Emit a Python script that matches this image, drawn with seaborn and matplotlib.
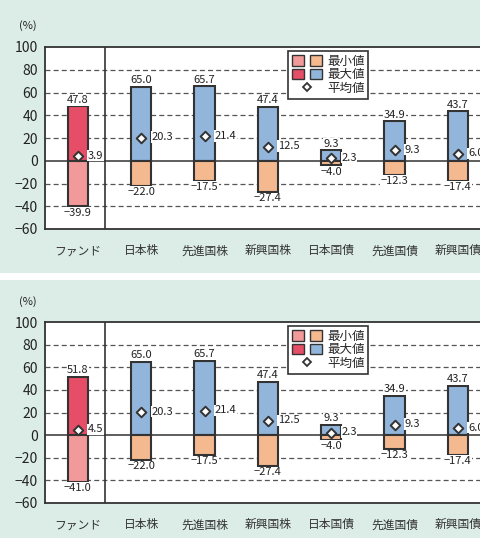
import matplotlib
matplotlib.use("Agg")
import matplotlib.pyplot as plt
import seaborn as sns
from matplotlib.patches import Patch, Rectangle
from matplotlib.lines import Line2D
from matplotlib.legend_handler import HandlerTuple

categories = ['ファンド', '日本株', '先進国株', '新興国株', '日本国債', '先進国債', '新興国債']

# top panel
max_top = [47.8, 65.0, 65.7, 47.4, 9.3, 34.9, 43.7]
min_top = [-39.9, -22.0, -17.5, -27.4, -4.0, -12.3, -17.4]
mean_top = [3.9, 20.3, 21.4, 12.5, 2.3, 9.3, 6.0]

# bottom panel (only the fund differs)
max_bot = [51.8, 65.0, 65.7, 47.4, 9.3, 34.9, 43.7]
min_bot = [-41.0, -22.0, -17.5, -27.4, -4.0, -12.3, -17.4]
mean_bot = [4.5, 20.3, 21.4, 12.5, 2.3, 9.3, 6.0]

y_ticks = [-60, -40, -20, 0, 20, 40, 60, 80, 100]

sns.set_style("white")
plt.rcParams['font.family'] = ['Noto Sans CJK JP', 'DejaVu Sans']

BG = '#dcede7'
EDGE = '#333333'
FUND_MAX = '#e64d66'
FUND_MIN = '#f29a9a'
OTH_MAX = '#92b5db'
OTH_MIN = '#f4b98f'


def fmt(v):
    return f"{v:.1f}".replace('-', '\u2212')


def draw_panel(ax, maxs, mins, means):
    max_cols = [FUND_MAX] + [OTH_MAX] * 6
    min_cols = [FUND_MIN] + [OTH_MIN] * 6
    for g in [80, 60, 40, 20, -20, -40]:
        ax.axhline(g, color='#555555', lw=0.9, dashes=(4, 2.5), zorder=0)
    sns.barplot(x=categories, y=maxs, hue=categories, palette=max_cols, legend=False,
                width=0.32, saturation=1, edgecolor=EDGE, linewidth=1.5, ax=ax, zorder=2)
    sns.barplot(x=categories, y=mins, hue=categories, palette=min_cols, legend=False,
                width=0.32, saturation=1, edgecolor=EDGE, linewidth=1.5, ax=ax, zorder=2)
    ax.axhline(0, color=EDGE, lw=1.1, zorder=3)
    ax.axvline(0.43, color=EDGE, lw=1.2, zorder=1)
    xs = list(range(len(categories)))
    ax.scatter(xs, means, marker='D', s=24, facecolor='white', edgecolor=EDGE,
               linewidth=1.4, zorder=5)
    box = dict(facecolor='white', edgecolor='none', pad=0.5)
    for i in xs:
        ax.text(i, maxs[i] + 1.2, fmt(maxs[i]), ha='center', va='bottom',
                fontsize=8, color='#222222', bbox=box, zorder=4)
        ax.text(i, mins[i] - 1.2, fmt(mins[i]), ha='center', va='top',
                fontsize=8, color='#222222', bbox=box, zorder=4)
        ax.text(i + 0.16, means[i] + 0.5, fmt(means[i]), ha='left', va='center',
                fontsize=8, color='#222222', bbox=box, zorder=4)
    ax.set_xlim(-0.52, 6.35)
    ax.set_ylim(-60, 100)
    ax.set_yticks(y_ticks)
    ax.set_yticklabels([str(t).replace('-', '\u2212') for t in y_ticks], fontsize=10,
                       color='#222222')
    ax.tick_params(axis='y', length=3, width=1, color=EDGE, pad=2)
    ax.tick_params(axis='x', length=0, pad=11, labelsize=8.5, labelcolor='#333333')
    for s in ['left', 'bottom', 'top']:
        ax.spines[s].set_color(EDGE)
        ax.spines[s].set_linewidth(1.3)
    ax.spines['right'].set_visible(False)
    ax.set_facecolor('white')

    handles = [
        (Patch(facecolor=FUND_MIN, edgecolor=EDGE, lw=1), Patch(facecolor=OTH_MIN, edgecolor=EDGE, lw=1)),
        (Patch(facecolor=FUND_MAX, edgecolor=EDGE, lw=1), Patch(facecolor=OTH_MAX, edgecolor=EDGE, lw=1)),
        Line2D([], [], marker='D', ls='none', markersize=4.5, markerfacecolor='white',
               markeredgecolor=EDGE, markeredgewidth=1.3),
    ]
    leg = ax.legend(handles, ['最小値', '最大値', '平均値'],
                    handler_map={tuple: HandlerTuple(ndivide=None, pad=0.5)},
                    loc='upper left', bbox_to_anchor=(0.559, 0.978), fontsize=9,
                    handlelength=2.4, handleheight=0.9, handletextpad=0.4,
                    labelspacing=0.05, borderpad=0.3, borderaxespad=0, fancybox=False,
                    framealpha=1)
    leg.get_frame().set_edgecolor(EDGE)
    leg.get_frame().set_linewidth(1.2)
    leg.set_zorder(6)


fig = plt.figure(figsize=(4.8, 5.38), dpi=100)
fig.patch.set_facecolor(BG)
fig.patches.append(Rectangle((0, 1 - 280 / 538), 1, 7 / 538, transform=fig.transFigure,
                             facecolor='white', edgecolor='none'))

ax1 = fig.add_axes([45 / 480, 1 - 229 / 538, 435 / 480, 182 / 538])
ax2 = fig.add_axes([45 / 480, 1 - 503 / 538, 435 / 480, 181 / 538])
draw_panel(ax1, max_top, min_top, mean_top)
draw_panel(ax2, max_bot, min_bot, mean_bot)

fig.text(28 / 480, 1 - 26 / 538, '(%)', fontsize=8, color='#222222', ha='center', va='center')
fig.text(28 / 480, 1 - 302 / 538, '(%)', fontsize=8, color='#222222', ha='center', va='center')

fig.savefig('out.png', dpi=100, facecolor=fig.get_facecolor())
